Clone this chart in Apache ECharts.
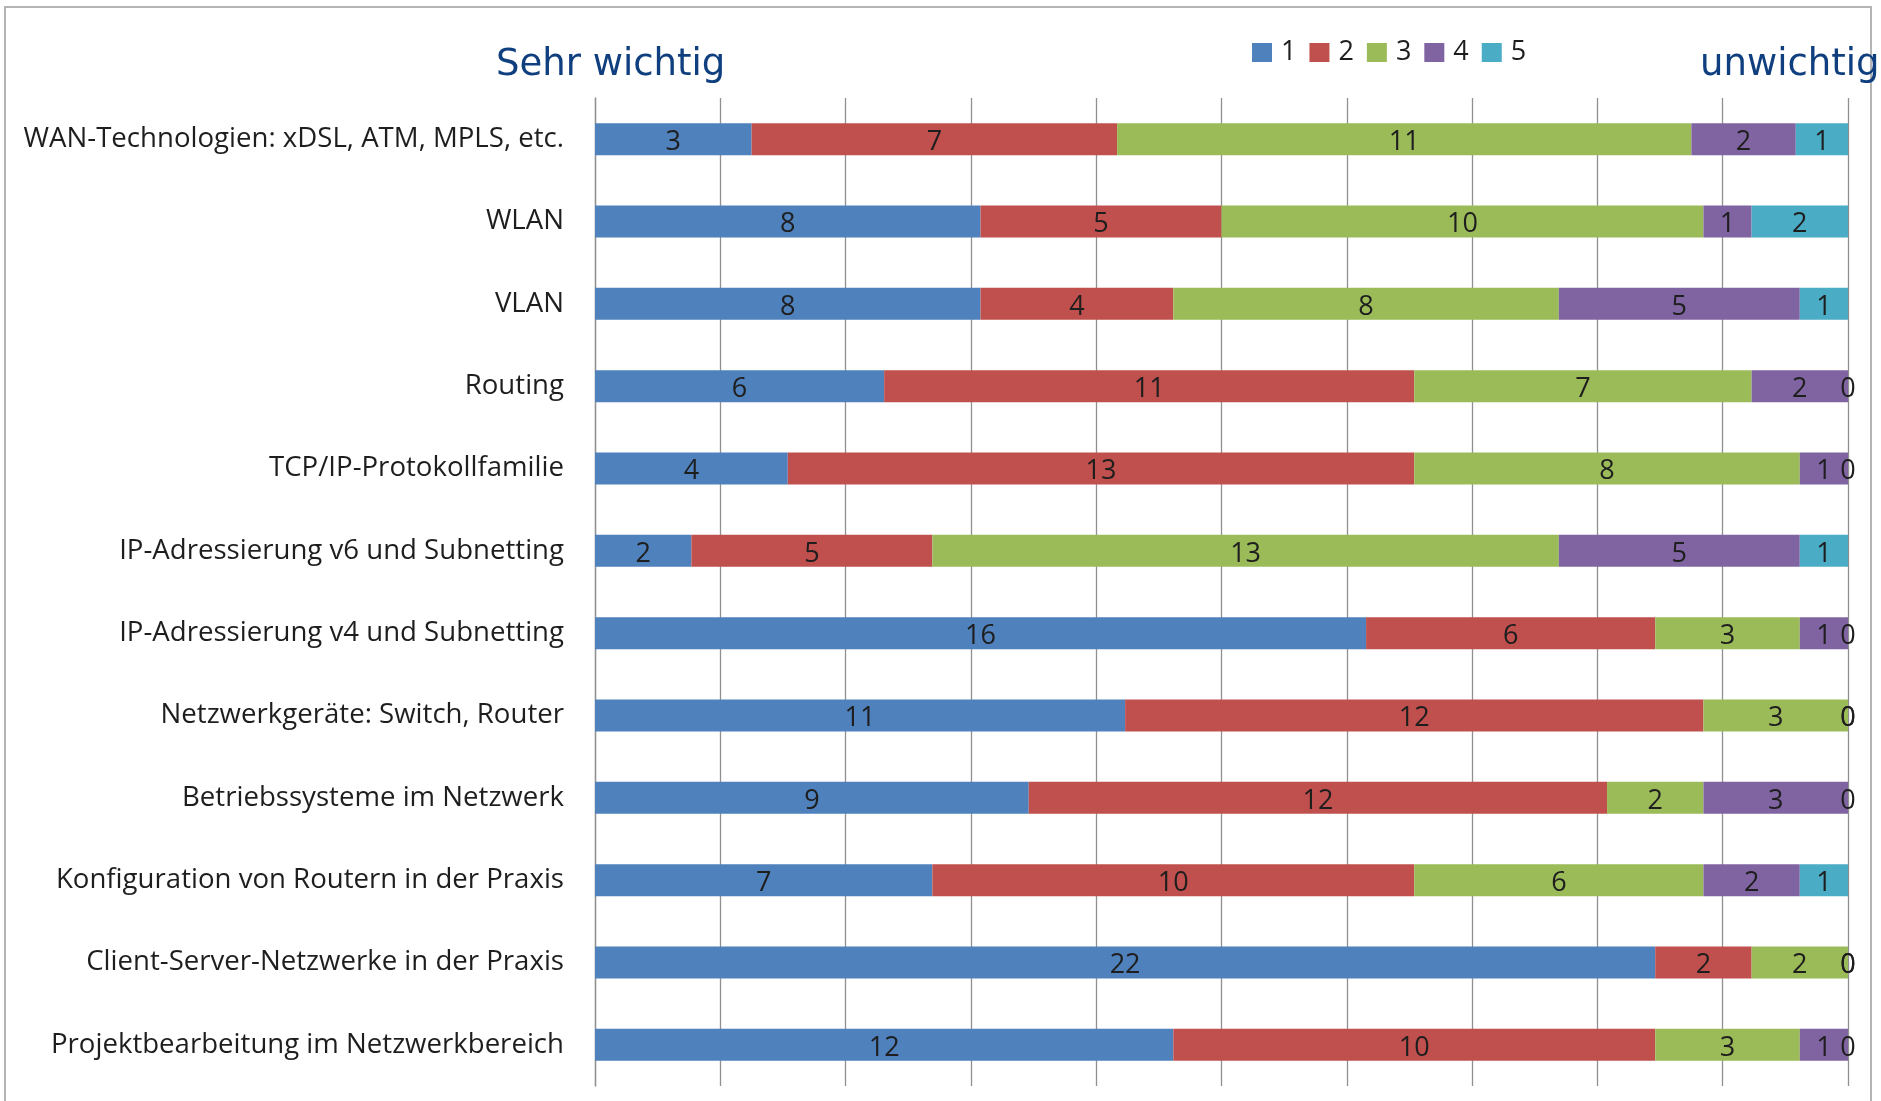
<!DOCTYPE html>
<html>
<head>
<meta charset="utf-8">
<script src="https://cdn.jsdelivr.net/npm/echarts@6/dist/echarts.min.js"></script>
<style>
    html, body { margin: 0; padding: 0; background: #fff; }
    #chart { width: 1881px; height: 1101px; }
</style>
</head>
<body>
<div id="chart"></div>
<script>
    var categories = [
        'WAN-Technologien: xDSL, ATM, MPLS, etc.',
        'WLAN',
        'VLAN',
        'Routing',
        'TCP/IP-Protokollfamilie',
        'IP-Adressierung v6 und Subnetting',
        'IP-Adressierung v4 und Subnetting',
        'Netzwerkgeräte: Switch, Router',
        'Betriebssysteme im Netzwerk',
        'Konfiguration von Routern in der Praxis',
        'Client-Server-Netzwerke in der Praxis',
        'Projektbearbeitung im Netzwerkbereich'
    ];
    var seriesNames = ['1', '2', '3', '4', '5'];
    var rating1 = [3, 8, 8, 6, 4, 2, 16, 11, 9, 7, 22, 12];
    var rating2 = [7, 5, 4, 11, 13, 5, 6, 12, 12, 10, 2, 10];
    var rating3 = [11, 10, 8, 7, 8, 13, 3, 3, 2, 6, 2, 3];
    var rating4 = [2, 1, 5, 2, 1, 5, 1, 0, 3, 2, 0, 1];
    var rating5 = [1, 2, 1, 0, 0, 1, 0, 0, 0, 1, 0, 0];
    var xTicks = [0, 10, 20, 30, 40, 50, 60, 70, 80, 90, 100];

    var colors = ['#4F81BD', '#C0504D', '#9BBB59', '#8064A2', '#4BACC6'];
    var ratings = [rating1, rating2, rating3, rating4, rating5];
    var font = '"Open Sans", Lato, sans-serif';

    // 100% gestapelt: Summe je Zeile
    var totals = categories.map(function (c, i) {
        var s = 0;
        ratings.forEach(function (r) { s += r[i]; });
        return s;
    });

    var series = ratings.map(function (r, k) {
        return {
            name: seriesNames[k],
            type: 'bar',
            stack: 'total',
            barWidth: 32,
            itemStyle: { color: colors[k] },
            label: {
                show: true,
                position: 'inside',
                offset: [0, 3],
                color: '#1e1e1e',
                fontFamily: font,
                fontSize: 27,
                formatter: function (p) { return r[p.dataIndex]; }
            },
            data: r.map(function (v, i) { return v / totals[i] * 100; })
        };
    });

    var myChart = echarts.init(document.getElementById('chart'));
    myChart.setOption({
        animation: false,
        backgroundColor: '#fff',
        grid: { left: 595, right: 33, top: 98, bottom: 15 },
        legend: {
            data: seriesNames,
            left: 1247,
            top: 34,
            icon: 'rect',
            itemWidth: 20,
            itemHeight: 19,
            itemGap: 13,
            textStyle: { fontFamily: font, fontSize: 27, color: '#1e1e1e', padding: [0, 0, 0, 4] }
        },
        xAxis: {
            type: 'value',
            min: xTicks[0],
            max: xTicks[xTicks.length - 1],
            interval: xTicks[1] - xTicks[0],
            axisLine: { show: false },
            axisTick: { show: false },
            axisLabel: { show: false },
            splitLine: { lineStyle: { color: '#909090', width: 1.3 } }
        },
        yAxis: {
            type: 'category',
            inverse: true,
            data: categories,
            axisLine: { lineStyle: { color: '#909090', width: 1.3 } },
            axisTick: { length: 11, lineStyle: { color: '#909090', width: 1.3 } },
            axisLabel: { margin: 31, fontFamily: font, fontSize: 27.6, color: '#1e1e1e', padding: [4, 0, 0, 0] }
        },
        graphic: [
            {
                type: 'rect',
                shape: { x: 5, y: 7, width: 1866, height: 1200 },
                style: { fill: null, stroke: '#b4b4b4', lineWidth: 2 },
                silent: true
            },
            {
                type: 'text',
                left: 496,
                top: 47,
                style: { text: 'Sehr wichtig', font: '37px "DejaVu Sans"', fill: '#0f3f7f' }
            },
            {
                type: 'text',
                left: 1700,
                top: 47,
                style: { text: 'unwichtig', font: '37px "DejaVu Sans"', fill: '#0f3f7f' }
            }
        ],
        series: series
    });
</script>
</body>
</html>
